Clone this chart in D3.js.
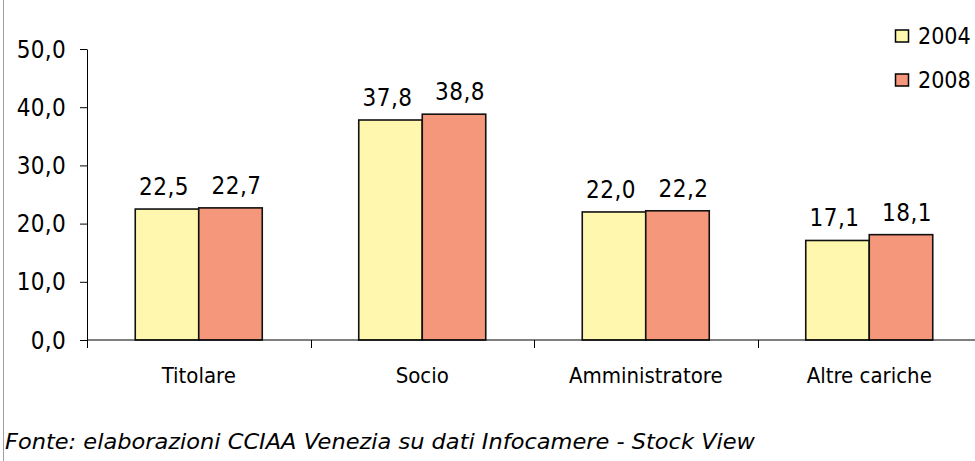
<!DOCTYPE html>
<html><head><meta charset="utf-8">
<script src="https://cdn.jsdelivr.net/npm/d3@7"></script>
<style>body{margin:0;background:#fff}svg{display:block}</style>
</head><body>
<svg id="c" width="975" height="461"></svg>
<script>
const categories = ["Titolare", "Socio", "Amministratore", "Altre cariche"];
const seriesNames = ["2004", "2008"];
const values2004 = [22.5, 37.8, 22.0, 17.1];
const values2008 = [22.7, 38.8, 22.2, 18.1];
const yTicks = [0, 10, 20, 30, 40, 50];
const colors = ["#FFF7AE", "#F5977A"];
const footnote = "Fonte: elaborazioni CCIAA Venezia su dati Infocamere - Stock View";

const svg = d3.select("#c");
const font = "'DejaVu Sans Condensed', 'DejaVu Sans', sans-serif";
const fmt = v => v.toFixed(1).replace(".", ",");

const x0 = 87, x1 = 981, yTop = 49, yBot = 340;
const x = d3.scaleBand().domain(categories).range([x0, x1]).paddingInner(0).paddingOuter(0);
const y = d3.scaleLinear().domain([0, 50]).range([yBot, yTop]);
const barW = 63.5;
const labelShift = [-3, 6];

// left border
svg.append("line").attr("x1", 3.5).attr("x2", 3.5).attr("y1", 0).attr("y2", 461)
  .attr("stroke", "#a0a0a0").attr("stroke-width", 1);

// bars
const data = [values2004, values2008];
data.forEach((vals, si) => {
  svg.append("g").selectAll("rect").data(categories).join("rect")
    .attr("x", c => x(c) + x.bandwidth() / 2 - barW + si * barW)
    .attr("y", (c, i) => y(vals[i]))
    .attr("width", barW)
    .attr("height", (c, i) => yBot - y(vals[i]))
    .attr("fill", colors[si]).attr("stroke", "#111").attr("stroke-width", 1.6);
  svg.append("g").selectAll("text").data(categories).join("text")
    .attr("x", c => x(c) + x.bandwidth() / 2 - barW / 2 + si * barW + labelShift[si])
    .attr("y", (c, i) => y(vals[i]) - 14)
    .attr("text-anchor", "middle").attr("font-family", font).attr("font-size", 24)
    .attr("letter-spacing", 0.5)
    .text((c, i) => fmt(vals[i]));
});

// y axis
const yAxis = svg.append("g").attr("transform", `translate(${x0},0)`)
  .call(d3.axisLeft(y).tickValues(yTicks).tickFormat(fmt).tickSize(7).tickSizeOuter(0));
yAxis.select(".domain").attr("stroke", "#000");
yAxis.selectAll(".tick line").attr("stroke", "#000");
yAxis.selectAll("text").attr("font-family", font).attr("font-size", 24).attr("fill", "#000")
  .attr("x", -21).attr("dy", "0.34em").attr("letter-spacing", 0.3);

// x axis
const xAxis = svg.append("g").attr("transform", `translate(0,${yBot})`);
xAxis.append("line").attr("x1", x0).attr("x2", x1).attr("stroke", "#000");
const bounds = categories.map(c => x(c)).concat([x1]);
xAxis.selectAll("line.t").data(bounds).join("line").attr("class", "t")
  .attr("x1", d => Math.round(d) + 0.5).attr("x2", d => Math.round(d) + 0.5)
  .attr("y1", 0).attr("y2", 8).attr("stroke", "#000");
xAxis.selectAll("text").data(categories).join("text")
  .attr("x", c => x(c) + x.bandwidth() / 2).attr("y", 43)
  .attr("text-anchor", "middle").attr("font-family", font).attr("font-size", 22)
  .text(c => c);

// legend
const lg = svg.append("g");
seriesNames.forEach((s, i) => {
  const ly = 36 + i * 44;
  lg.append("rect").attr("x", 895.5).attr("y", ly - 6).attr("width", 13).attr("height", 12)
    .attr("fill", colors[i]).attr("stroke", "#000").attr("stroke-width", 1.5);
  lg.append("text").attr("x", 918).attr("y", ly).attr("dy", "0.36em")
    .attr("font-family", font).attr("font-size", 23).text(s);
});

// footnote
svg.append("text").attr("x", 5).attr("y", 449).attr("font-family", font)
  .attr("font-size", 22).attr("font-style", "italic")
  .attr("textLength", 750).attr("lengthAdjust", "spacingAndGlyphs").text(footnote);
</script>
</body></html>
